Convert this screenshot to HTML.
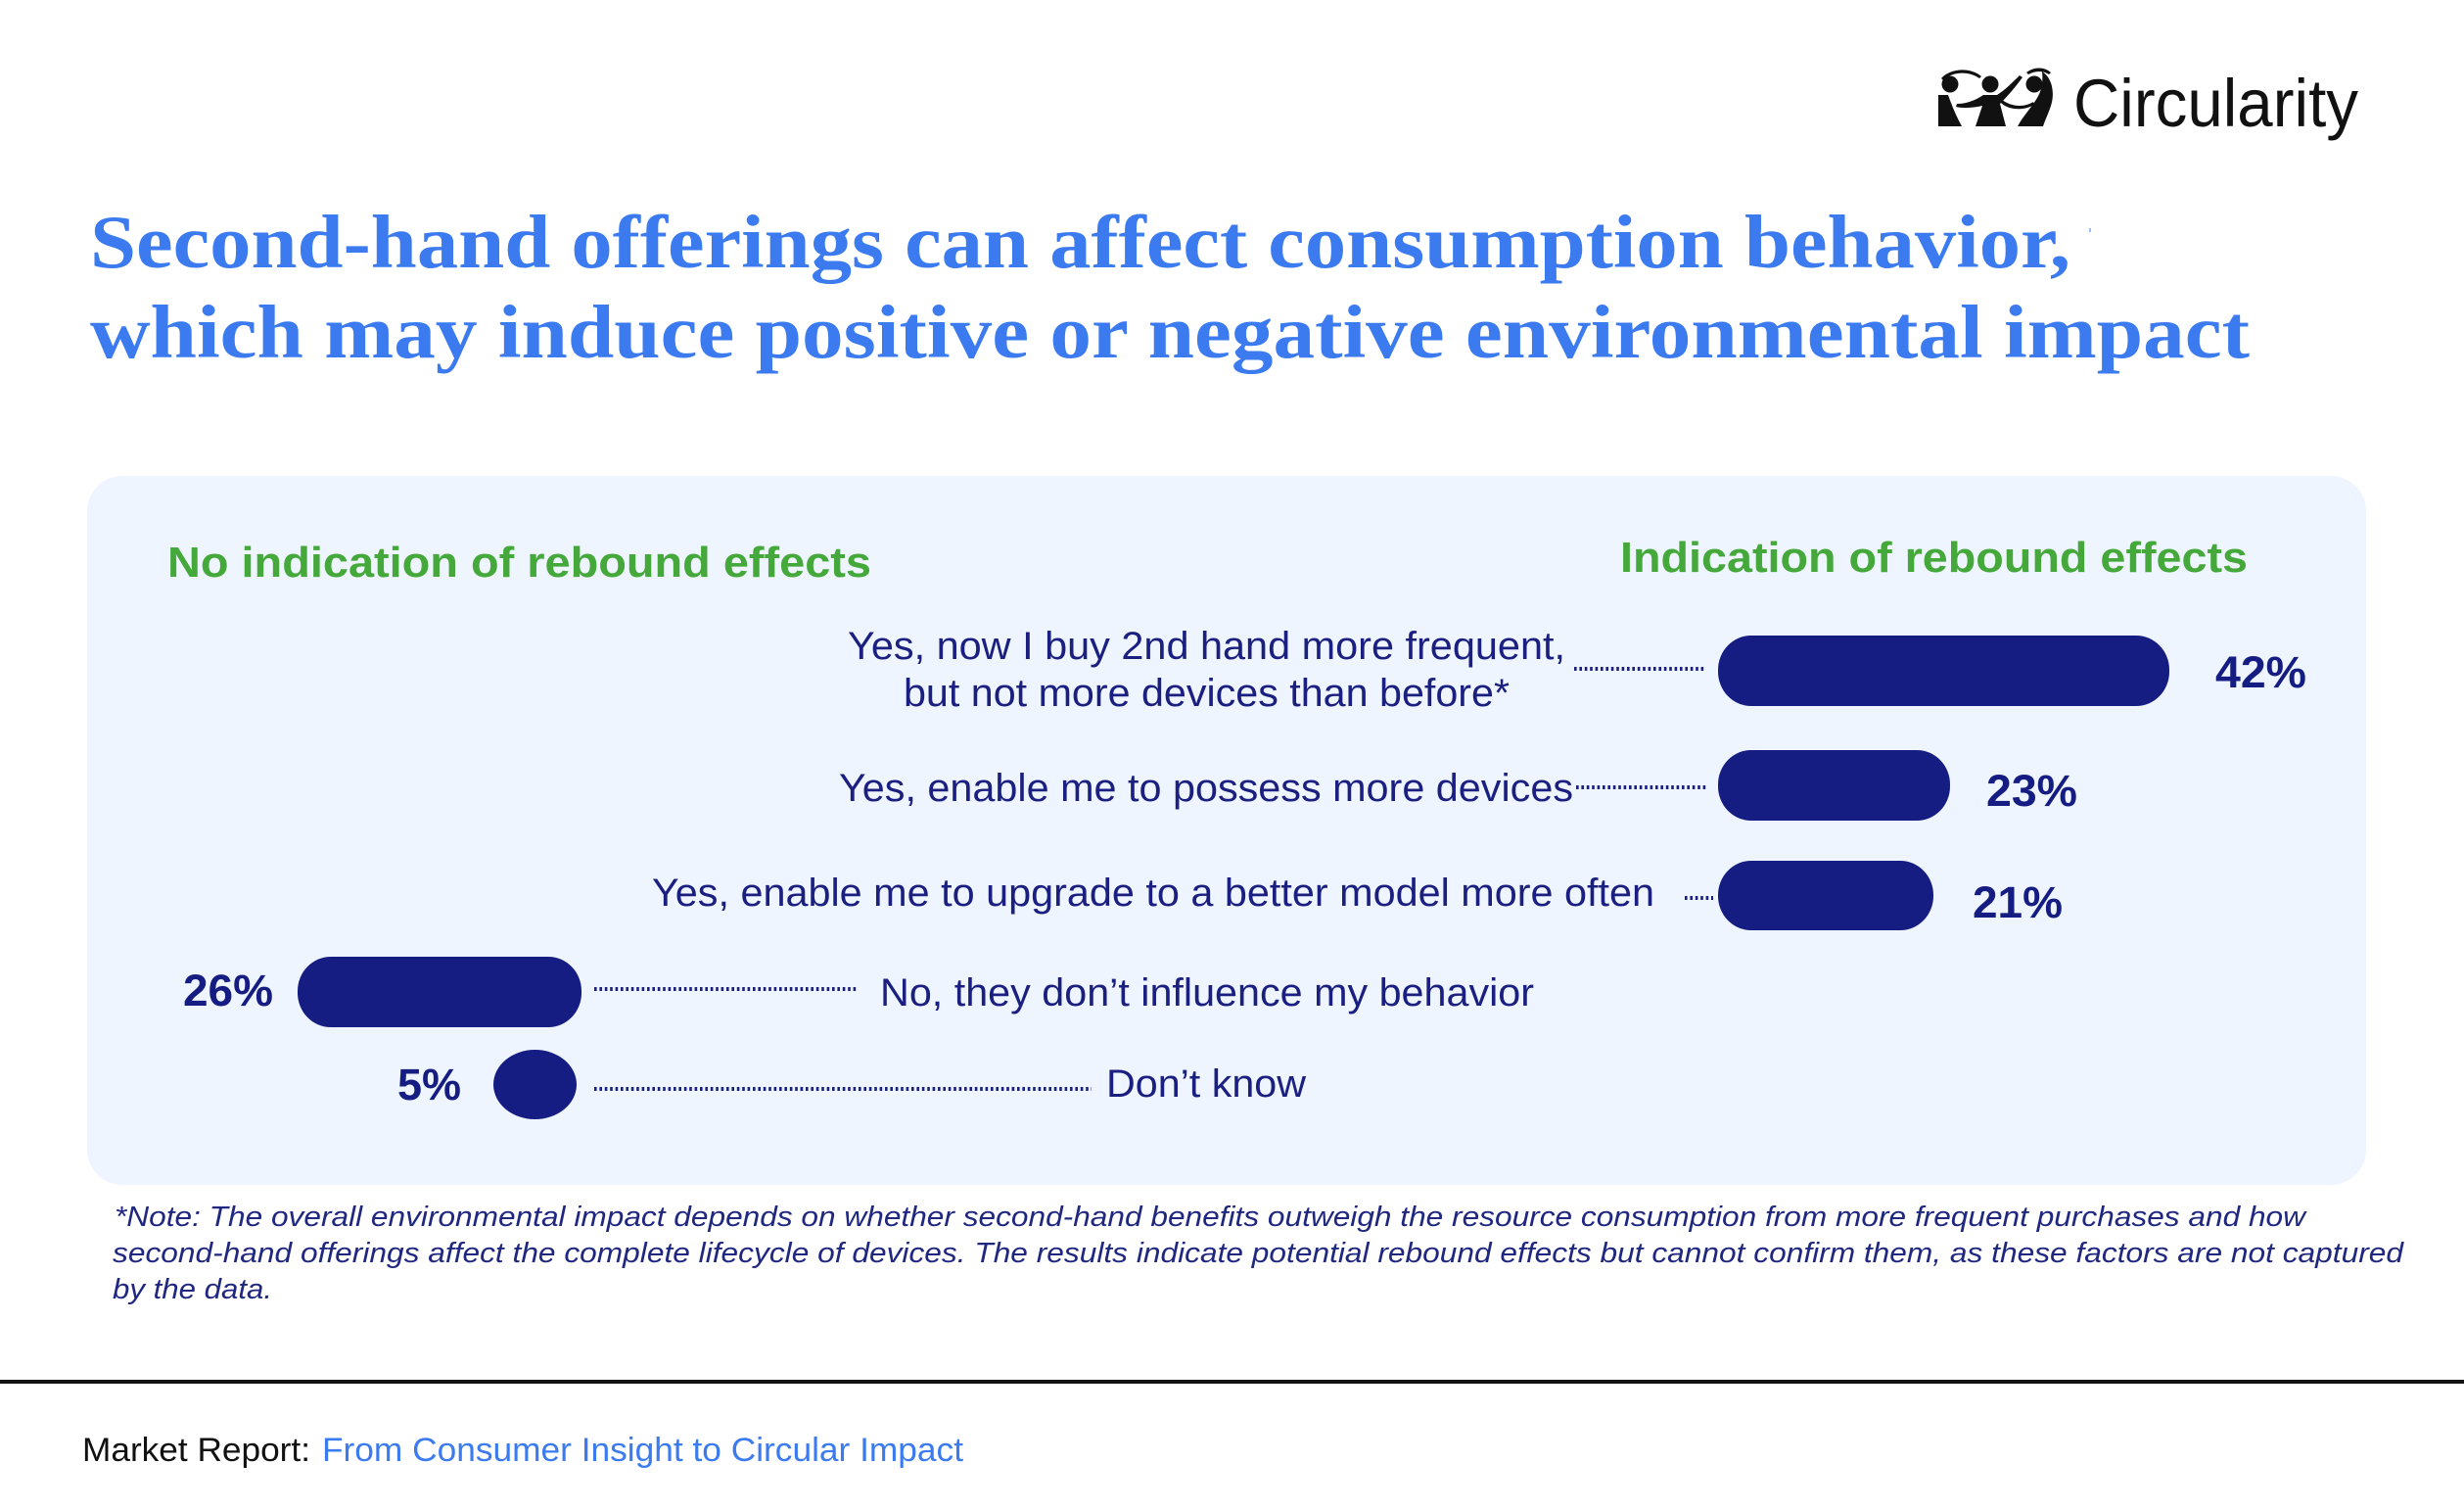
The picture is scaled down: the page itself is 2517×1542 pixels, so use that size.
<!DOCTYPE html>
<html>
<head>
<meta charset="utf-8">
<style>
  html, body { margin: 0; padding: 0; background: #ffffff; }
  svg { display: block; }
</style>
</head>
<body>
<svg width="2517" height="1542" viewBox="0 0 2517 1542" xmlns="http://www.w3.org/2000/svg">
  <rect x="0" y="0" width="2517" height="1542" fill="#ffffff"/>

  <!-- Logo -->
  <g fill="#111111">
    <circle cx="1992" cy="86" r="8.5"/>
    <circle cx="2033" cy="86" r="8.5"/>
    <circle cx="2078" cy="86" r="8.5"/>
    <!-- left figure body -->
    <path d="M1980,97 L1990,97 C1994,108 1998,118 2004,129 L1980,129 Z"/>
    <!-- middle figure body + arms -->
    <path d="M2026,97 L2040,97 C2048,92 2055,85 2063,77 L2066,79 C2058,90 2050,99 2043,106 L2049,129 L2018,129 L2025,108 C2016,110 2006,111 1998,109 L1999,106 C2008,106 2017,103 2026,97 Z"/>
    <!-- right figure body -->
    <path d="M2086,73 C2097,80 2099,96 2095,108 C2092,117 2089,123 2087,129 L2061,129 C2067,118 2075,110 2081,100 C2086,92 2087,82 2086,73 Z"/>
    <!-- arcs -->
    <path d="M1983,80 C1992,70 2012,68 2024,78 L2022,80 C2011,72 1994,73 1985,82 Z"/>
    <path d="M2044,101 C2052,108 2066,111 2077,104 L2078,107 C2066,114 2050,112 2043,104 Z"/>
    <path d="M2070,74 C2078,68 2088,68 2095,74 L2093,76 C2087,72 2079,72 2072,76 Z"/>
  </g>
  <text x="2118" y="129" font-family="'Liberation Sans', 'DejaVu Sans', sans-serif" font-size="69" fill="#111111" textLength="291" lengthAdjust="spacingAndGlyphs">Circularity</text>

  <!-- Title -->
  <text x="92" y="273" font-family="'Liberation Serif', serif" font-weight="bold" font-size="77" fill="#3b7bef" textLength="2023" lengthAdjust="spacingAndGlyphs">Second-hand offerings can affect consumption behavior,</text>
  <rect x="2134" y="233" width="2" height="4" fill="#9bbcf5"/>
  <text x="92" y="365" font-family="'Liberation Serif', serif" font-weight="bold" font-size="77" fill="#3b7bef" textLength="2206" lengthAdjust="spacingAndGlyphs">which may induce positive or negative environmental impact</text>

  <!-- Panel -->
  <rect x="89" y="486" width="2328" height="724" rx="36" ry="36" fill="#eef5fe"/>

  <!-- Green headings -->
  <text x="171" y="589" font-family="'Liberation Sans', sans-serif" font-weight="bold" font-size="44" fill="#45a83a" textLength="719" lengthAdjust="spacingAndGlyphs">No indication of rebound effects</text>
  <text x="1655" y="584" font-family="'Liberation Sans', sans-serif" font-weight="bold" font-size="44" fill="#45a83a" textLength="641" lengthAdjust="spacingAndGlyphs">Indication of rebound effects</text>

  <!-- Category labels -->
  <g font-family="'Liberation Sans', sans-serif" font-size="40" fill="#1b2080">
    <text x="866" y="673" textLength="733" lengthAdjust="spacingAndGlyphs">Yes, now I buy 2nd hand more frequent,</text>
    <text x="923" y="721" textLength="619" lengthAdjust="spacingAndGlyphs">but not more devices than before*</text>
    <text x="857" y="818" textLength="750" lengthAdjust="spacingAndGlyphs">Yes, enable me to possess more devices</text>
    <text x="666" y="925" textLength="1024" lengthAdjust="spacingAndGlyphs">Yes, enable me to upgrade to a better model more often</text>
    <text x="899" y="1027" textLength="668" lengthAdjust="spacingAndGlyphs">No, they don’t influence my behavior</text>
    <text x="1130" y="1120" textLength="204" lengthAdjust="spacingAndGlyphs">Don’t know</text>
  </g>

  <!-- Dotted leaders -->
  <g stroke="#1b2080" stroke-width="4" stroke-dasharray="2.6 2.8" fill="none">
    <line x1="1608" y1="683" x2="1743" y2="683"/>
    <line x1="1610" y1="804" x2="1743" y2="804"/>
    <line x1="1721" y1="917" x2="1750" y2="917"/>
    <line x1="607" y1="1010" x2="875" y2="1010"/>
    <line x1="607" y1="1112" x2="1115" y2="1112"/>
  </g>

  <!-- Bars -->
  <g fill="#161d82">
    <rect x="1755" y="649" width="461" height="72" rx="34" ry="35"/>
    <rect x="1755" y="766" width="237" height="72" rx="34" ry="35"/>
    <rect x="1755" y="879" width="220" height="71" rx="34" ry="35"/>
    <rect x="304" y="977" width="290" height="72" rx="34" ry="35"/>
    <ellipse cx="546.5" cy="1107.5" rx="42.5" ry="35.5"/>
  </g>

  <!-- Percent labels -->
  <g font-family="'Liberation Sans', sans-serif" font-weight="bold" font-size="45" fill="#161d82">
    <text x="2263" y="702" textLength="93" lengthAdjust="spacingAndGlyphs">42%</text>
    <text x="2029" y="823" textLength="93" lengthAdjust="spacingAndGlyphs">23%</text>
    <text x="2015" y="937" textLength="92" lengthAdjust="spacingAndGlyphs">21%</text>
    <text x="187" y="1027" textLength="92" lengthAdjust="spacingAndGlyphs">26%</text>
    <text x="406" y="1123" textLength="65" lengthAdjust="spacingAndGlyphs">5%</text>
  </g>

  <!-- Note -->
  <g font-family="'Liberation Sans', sans-serif" font-style="italic" font-size="28.5" fill="#1f2780">
    <text x="117" y="1252" textLength="2238" lengthAdjust="spacingAndGlyphs">*Note: The overall environmental impact depends on whether second-hand benefits outweigh the resource consumption from more frequent purchases and how</text>
    <text x="115" y="1289" textLength="2340" lengthAdjust="spacingAndGlyphs">second-hand offerings affect the complete lifecycle of devices. The results indicate potential rebound effects but cannot confirm them, as these factors are not captured</text>
    <text x="115" y="1326" textLength="163" lengthAdjust="spacingAndGlyphs">by the data.</text>
  </g>

  <!-- Rule -->
  <rect x="0" y="1409" width="2517" height="4" fill="#141414"/>

  <!-- Footer -->
  <text x="84" y="1492" font-family="'Liberation Sans', sans-serif" font-size="34" fill="#111111" textLength="233" lengthAdjust="spacingAndGlyphs">Market Report:</text>
  <text x="329" y="1492" font-family="'Liberation Sans', sans-serif" font-size="34" fill="#3b7bef" textLength="655" lengthAdjust="spacingAndGlyphs">From Consumer Insight to Circular Impact</text>
</svg>
</body>
</html>
